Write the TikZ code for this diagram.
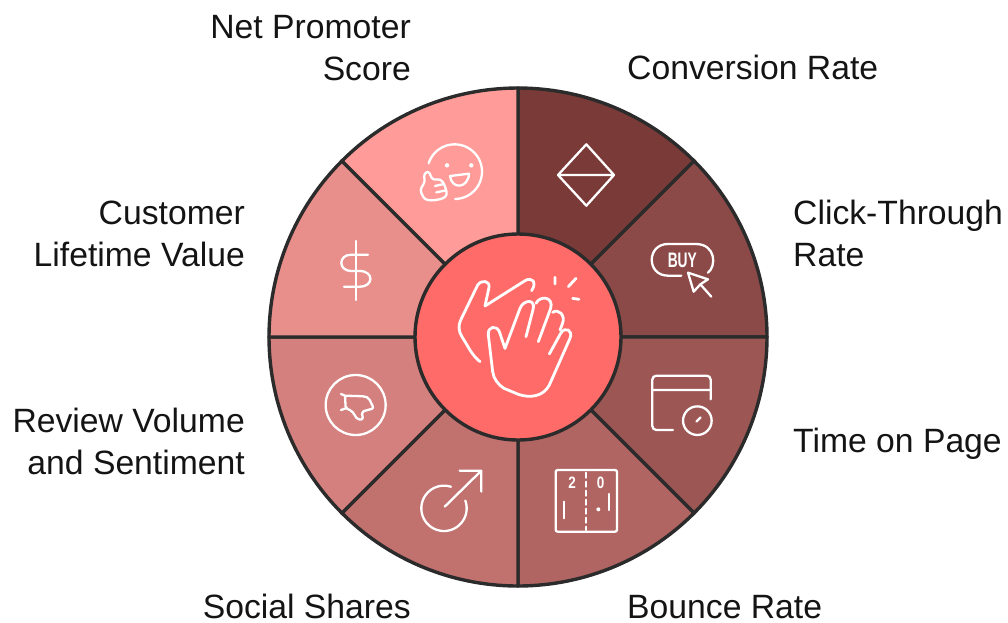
\documentclass[tikz,border=0pt]{standalone}
\usepackage{fontspec}
\setmainfont{Liberation Sans}
\definecolor{edgecol}{HTML}{2B2B2B}
\definecolor{hubcol}{HTML}{FF6B68}
\definecolor{segA}{HTML}{7A3B38}
\definecolor{segB}{HTML}{8B4A48}
\definecolor{segC}{HTML}{9C5654}
\definecolor{segD}{HTML}{B06563}
\definecolor{segE}{HTML}{C1716E}
\definecolor{segF}{HTML}{D4807E}
\definecolor{segG}{HTML}{E88F8C}
\definecolor{segH}{HTML}{FF9C99}
\definecolor{inkcol}{HTML}{141414}
\tikzset{
  label text/.style={inner sep=0pt,font=\fontsize{33.7}{41.5}\selectfont,text=inkcol},
  seg/.style={draw=edgecol,line width=3.4pt,line join=round},
  icon/.style={draw=white,line width=2.3pt,line cap=round,line join=round},
  clapline/.style={draw=white,line width=2.8pt,line cap=round,line join=round},
  zoomed/.style={x=0.33333pt,y=-0.33333pt},
  icon text/.style={inner sep=0pt,text=white,font=\bfseries\fontsize{15}{15}\selectfont},
}
\begin{document}
\begin{tikzpicture}[x=1pt,y=-1pt]
\useasboundingbox (0,0) rectangle (1008,622);
% wheel
\foreach \c/\a in {segA/45,segB/0,segC/-45,segD/-90,segE/-135,segF/-180,segG/-225,segH/-270}{
  \draw[seg,fill=\c] (518,337) -- plot[domain=\a:\a+45,samples=40] ({518+249*cos(\x)},{337-249*sin(\x)}) -- cycle;
}
\node[circle,minimum size=206pt,inner sep=0pt,draw=edgecol,line width=3.4pt,fill=hubcol] (hub) at (518,337) {};
% diamond
\begin{scope}[zoomed,shift={(518pt,-90pt)}]
\draw[icon] (205,163) -- (288,255) -- (205,347) -- (120,255) -- cycle (120,255) -- (288,255);
% buy
\draw[icon] (490,557) -- (450,557) .. controls (385,557) and (385,462) .. (450,462) -- (533,462) .. controls (595,462) and (595,530) .. (570,548);
\node[icon text,xscale=0.92,yscale=1.4] (buy) at (493,510) {BUY};
\draw[icon] (510,548) -- (570,568) -- (547,583) -- (527,605) -- cycle (547,583) -- (580,620);
\end{scope}
% time
\begin{scope}[zoomed,shift={(518pt,-340pt)}]
\draw[icon,rounded corners=4pt] (578,178) -- (578,107) -- (403,107) -- (403,270) -- (465,270);
\draw[icon] (403,150) -- (578,150) (535,245) -- (548,232);
\draw[icon] (538,242) circle[radius=14.3pt];
% score
\draw[icon,rounded corners=2pt] (113,390) rectangle (297,575);
\draw[icon,dash pattern=on 5pt off 4pt] (205,398) -- (205,570);
\node[icon text,yscale=1.1,xscale=0.9] (scoreL) at (162,427) {2};
\node[icon text,yscale=1.1,xscale=0.9] (scoreR) at (248,427) {0};
\draw[icon] (138,485) -- (138,535) (272,462) -- (272,510);
\fill[white] (241,508) circle[radius=2pt];
\end{scope}
% share
\begin{scope}[zoomed,shift={(268pt,-340pt)}]
\draw[icon] plot[domain=72:380,samples=60] ({528+68*cos(\x)},{505-68*sin(\x)});
\draw[icon] (530,500) -- (640,392) (575,392) -- (640,392) -- (640,455);
\draw[icon] (263,195) circle[radius=30pt];
\end{scope}
% thumbs down
\begin{scope}[zoomed,shift={(325pt,-375pt)}]
\draw[icon,rounded corners=2pt] (60,62) -- (120,64) -- (132,70) -- (146,100) -- (110,110) -- (114,133) -- (98,134) -- (80,107) -- (62,100) -- cycle;
\draw[icon] (48,57) -- (60,62) (62,100) -- (48,105);
\end{scope}
% dollar, smile
\begin{scope}[zoomed,shift={(268pt,-90pt)}]
\draw[icon] (264,453) -- (264,630);
\draw[icon] (300,494) -- (250,494) .. controls (210,494) and (210,543) .. (250,543) -- (275,543) .. controls (318,543) and (318,590) .. (275,590) -- (228,590);
\draw[icon] plot[domain=162:-89,samples=50] ({560+82*cos(\x)},{245-82*sin(\x)});
\fill[white] (537,226) circle[radius=2.2pt] (610,226) circle[radius=2.2pt];
\end{scope}
% thumbs up
\begin{scope}[zoomed,shift={(415pt,-140pt)}]
\draw[icon] (105,108) -- (162,101) .. controls (160,145) and (110,150) .. cycle;
\draw[icon,rounded corners=3pt] (30,125) -- (26,103) -- (40,92) -- (53,120) -- (76,117) -- (88,132) -- (97,165) -- (84,176) -- (50,182) -- (28,178) -- (15,150) -- cycle;
\draw[icon] (60,138) -- (86,132) (64,157) -- (94,151);
\end{scope}
% clap
\begin{scope}[zoomed,shift={(430pt,-250pt)}]
\draw[clapline] (150,335) .. controls (125,315) and (115,290) .. (97,262) .. controls (85,245) and (83,225) .. (97,200) -- (143,105) .. controls (155,88) and (180,92) .. (177,112) -- (165,168) -- (285,92) .. controls (305,80) and (322,95) .. (305,122);
\draw[clapline] (225,295) -- (208,245) .. controls (200,225) and (172,228) .. (175,255) -- (188,365) .. controls (190,385) and (205,405) .. (222,415) -- (265,433) .. controls (300,445) and (340,440) .. (358,405) -- (420,265) .. controls (430,240) and (405,228) .. (392,250) -- (358,312);
\draw[clapline] (225,295) -- (270,175) .. controls (280,150) and (315,145) .. (310,175) -- (288,260);
\draw[clapline] (318,160) .. controls (330,135) and (372,140) .. (362,175) -- (325,275);
\draw[clapline] (368,187) .. controls (385,175) and (408,195) .. (397,222) -- (390,240);
\draw[clapline] (375,82) -- (375,102) (438,85) -- (415,110) (428,145) -- (447,148);
\end{scope}
% labels
\node[label text,anchor=base east,align=right] (nps) at (411,80) {Net Promoter\\Score};
\node[label text,anchor=base east,align=right] (clv) at (245,266) {Customer\\Lifetime Value};
\node[label text,anchor=base east,align=right] (rvs) at (245,474) {Review Volume\\and Sentiment};
\node[label text,anchor=base east] (soc) at (411,618.5) {Social Shares};
\node[label text,anchor=base west] (bou) at (627,618.5) {Bounce Rate};
\node[label text,anchor=base west] (top) at (793,452) {Time on Page};
\node[label text,anchor=base west,align=left] (ctr) at (793,266) {Click-Through\\Rate};
\node[label text,anchor=base west] (con) at (627,79) {Conversion Rate};
\end{tikzpicture}
\end{document}
